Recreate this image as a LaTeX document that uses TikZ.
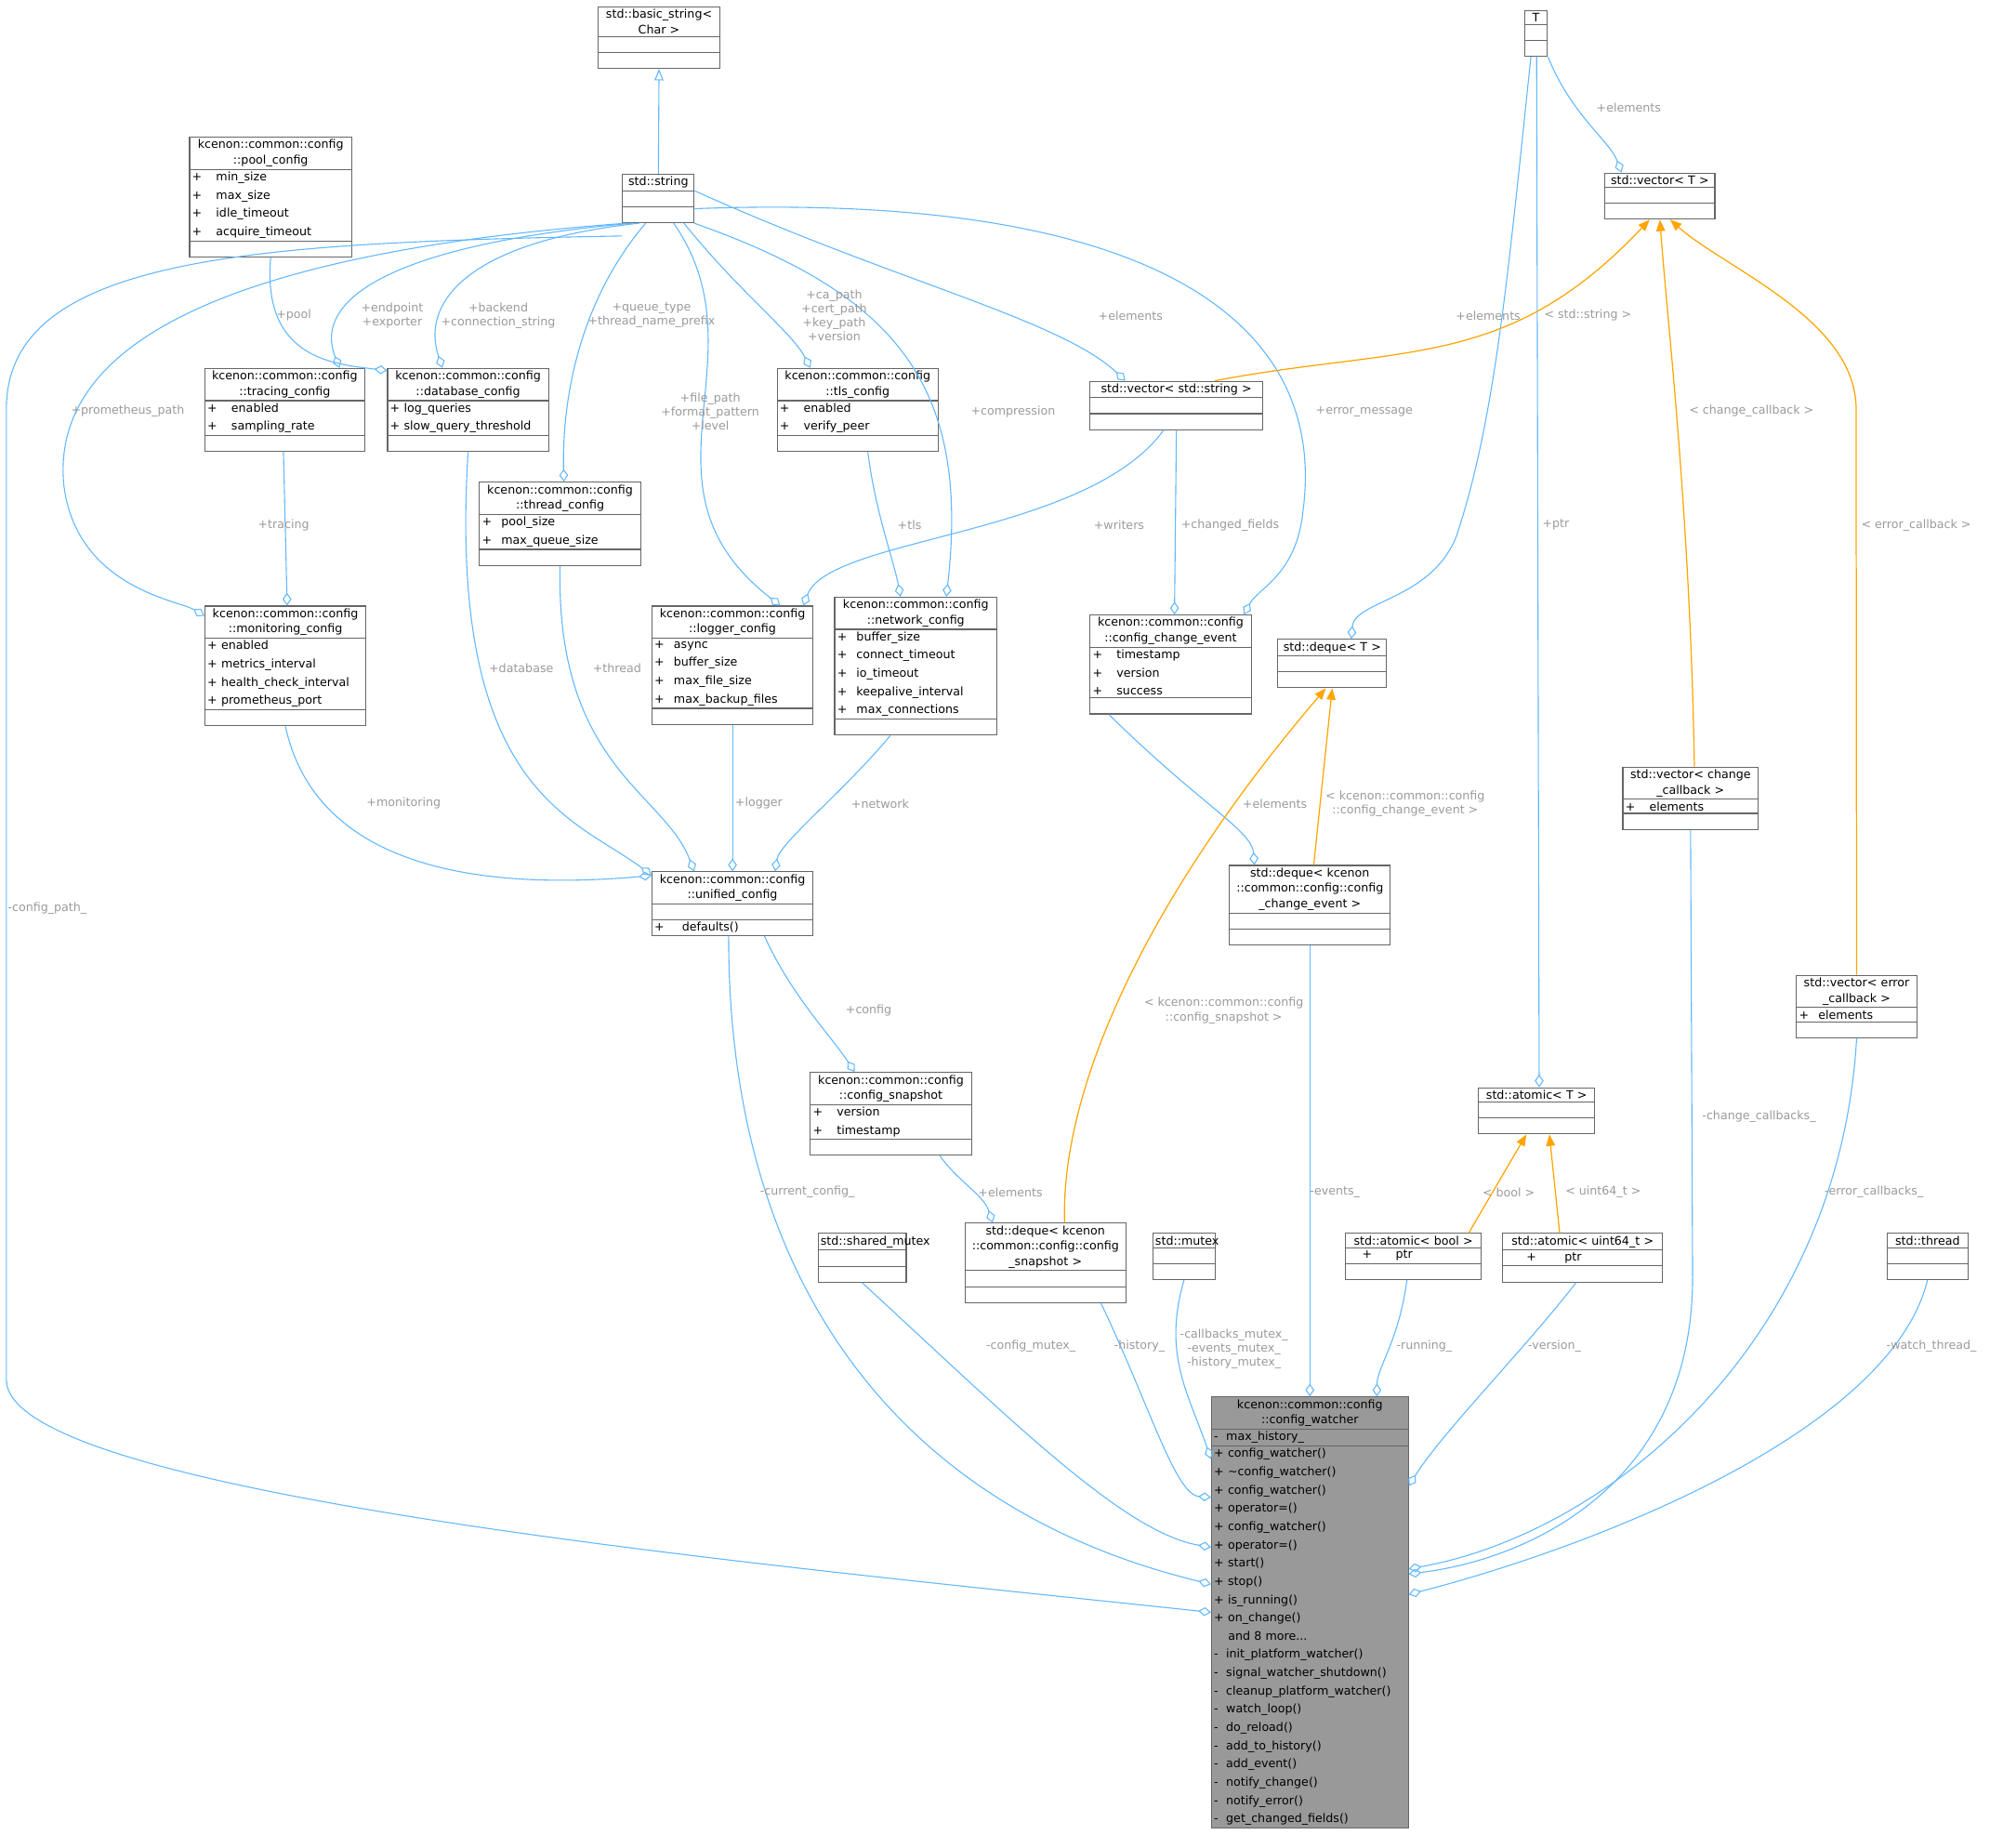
\documentclass[tikz,border=0pt]{standalone}
\usepackage{fontspec}
\setsansfont{DejaVu Sans}
\usetikzlibrary{shapes.multipart,arrows.meta}
\definecolor{edgeblue}{HTML}{63B8FF}
\definecolor{edgeorange}{HTML}{FFA500}
\definecolor{lblgray}{HTML}{9A9A9A}
\tikzset{
  cls/.style={draw=black!60, line width=0.8pt, fill=white, rectangle split, rectangle split parts=3,
    anchor=north west, align=left,
    inner xsep=2pt, inner ysep=1.6pt, font=\sffamily\fontsize{9.2}{14.3}\selectfont,
    text width=#1},
  agg/.style={draw=edgeblue, line width=0.8pt, -{Diamond[open,length=10pt,width=7pt]}},
  tmpl/.style={draw=edgeorange, line width=0.9pt, -{Triangle[length=9pt,width=7pt]}, fill=none},
  lbl/.style={text=lblgray, align=center, font=\sffamily\fontsize{9.2}{11}\selectfont, inner sep=1pt}
}
\newcommand\ttl[1]{\fontsize{9.2}{12}\selectfont\centering #1\par}
\newcommand\emp{\rule{0pt}{8.5pt}}
\begin{document}
\begin{tikzpicture}[x=1pt,y=-1pt]
\useasboundingbox (0,0) rectangle (1568,1446);
% classes
\node[cls=91pt] (basicstr) at (468,5) {\ttl{std::basic\_string<\\Char >}\nodepart{second}\emp\nodepart{third}\emp};
\node[cls=52pt] (str) at (487,136) {\ttl{std::string}\nodepart{second}\emp\nodepart{third}\emp};
\node[cls=14pt] (T) at (1193,8) {\ttl{T}\nodepart{second}\emp\nodepart{third}\emp};
\node[cls=82pt] (vecT) at (1256,135) {\ttl{std::vector< T >}\nodepart{second}\emp\nodepart{third}\emp};
\node[cls=123pt] (pool) at (148,107) {\ttl{kcenon::common::config\\::pool\_config}\nodepart{second}
  +\hspace{1.2em}min\_size\\+\hspace{1.2em}max\_size\\+\hspace{1.2em}idle\_timeout\\+\hspace{1.2em}acquire\_timeout\nodepart{third}\emp};
\node[cls=121pt] (tracing) at (160,288) {\ttl{kcenon::common::config\\::tracing\_config}\nodepart{second}
  +\hspace{1.2em}enabled\\+\hspace{1.2em}sampling\_rate\nodepart{third}\emp};
\node[cls=122pt] (database) at (303,288) {\ttl{kcenon::common::config\\::database\_config}\nodepart{second}
  +\ log\_queries\\+\ slow\_query\_threshold\nodepart{third}\emp};
\node[cls=122pt] (thread) at (375,377) {\ttl{kcenon::common::config\\::thread\_config}\nodepart{second}
  +\hspace{0.8em}pool\_size\\+\hspace{0.8em}max\_queue\_size\nodepart{third}\emp};
\node[cls=122pt] (tls) at (608,288) {\ttl{kcenon::common::config\\::tls\_config}\nodepart{second}
  +\hspace{1.2em}enabled\\+\hspace{1.2em}verify\_peer\nodepart{third}\emp};
\node[cls=131pt] (vecstr) at (853,298) {\ttl{std::vector< std::string >}\nodepart{second}\emp\nodepart{third}\emp};
\node[cls=122pt] (monitoring) at (160,474) {\ttl{kcenon::common::config\\::monitoring\_config}\nodepart{second}
  +\ enabled\\+\ metrics\_interval\\+\ health\_check\_interval\\+\ prometheus\_port\nodepart{third}\emp};
\node[cls=122pt] (logger) at (510,474) {\ttl{kcenon::common::config\\::logger\_config}\nodepart{second}
  +\hspace{0.8em}async\\+\hspace{0.8em}buffer\_size\\+\hspace{0.8em}max\_file\_size\\+\hspace{0.8em}max\_backup\_files\nodepart{third}\emp};
\node[cls=123pt] (network) at (653,467) {\ttl{kcenon::common::config\\::network\_config}\nodepart{second}
  +\hspace{0.8em}buffer\_size\\+\hspace{0.8em}connect\_timeout\\+\hspace{0.8em}io\_timeout\\+\hspace{0.8em}keepalive\_interval\\+\hspace{0.8em}max\_connections\nodepart{third}\emp};
\node[cls=122pt] (chevent) at (853,481) {\ttl{kcenon::common::config\\::config\_change\_event}\nodepart{second}
  +\hspace{1.2em}timestamp\\+\hspace{1.2em}version\\+\hspace{1.2em}success\nodepart{third}\emp};
\node[cls=81pt] (dequeT) at (1000,500) {\ttl{std::deque< T >}\nodepart{second}\emp\nodepart{third}\emp};
\node[cls=102pt] (vecchange) at (1270,600) {\ttl{std::vector< change\\\_callback >}\nodepart{second}
  +\hspace{1.2em}elements\nodepart{third}\emp};
\node[cls=122pt] (unified) at (510,682) {\ttl{kcenon::common::config\\::unified\_config}\nodepart{second}\emp\nodepart{third}
  +\hspace{1.5em}defaults()};
\node[cls=122pt] (dequeevent) at (962,677) {\ttl{std::deque< kcenon\\::common::config::config\\\_change\_event >}\nodepart{second}\emp\nodepart{third}\emp};
\node[cls=90pt] (vecerror) at (1406,763) {\ttl{std::vector< error\\\_callback >}\nodepart{second}
  +\hspace{0.8em}elements\nodepart{third}\emp};
\node[cls=87pt] (atomicT) at (1157,851) {\ttl{std::atomic< T >}\nodepart{second}\emp\nodepart{third}\emp};
\node[cls=122pt] (snapshot) at (634,839) {\ttl{kcenon::common::config\\::config\_snapshot}\nodepart{second}
  +\hspace{1.2em}version\\+\hspace{1.2em}timestamp\nodepart{third}\emp};
\node[cls=65pt] (shmutex) at (640,965) {\ttl{std::shared\_mutex}\nodepart{second}\emp\nodepart{third}\emp};
\node[cls=122pt] (dequesnap) at (755,957) {\ttl{std::deque< kcenon\\::common::config::config\\\_snapshot >}\nodepart{second}\emp\nodepart{third}\emp};
\node[cls=45pt] (mutex) at (902,965) {\ttl{std::mutex}\nodepart{second}\emp\nodepart{third}\emp};
\node[cls=102pt] (atomicbool) at (1053,965) {\ttl{std::atomic< bool >}\nodepart{second}
  \hspace{1.2em}+\hspace{2em}ptr\nodepart{third}\emp};
\node[cls=121pt] (atomicu64) at (1176,965) {\ttl{std::atomic< uint64\_t >}\nodepart{second}
  \hspace{1.8em}+\hspace{2.4em}ptr\nodepart{third}\emp};
\node[cls=59pt] (stdthread) at (1477,965) {\ttl{std::thread}\nodepart{second}\emp\nodepart{third}\emp};
\node[cls=150pt, fill=black!40] (watcher) at (948,1093) {\ttl{kcenon::common::config\\::config\_watcher}\nodepart{second}
  -\ \ max\_history\_\nodepart{third}
  +\ config\_watcher()\\+\ \textasciitilde config\_watcher()\\+\ config\_watcher()\\+\ operator=()\\+\ config\_watcher()\\+\ operator=()\\+\ start()\\+\ stop()\\+\ is\_running()\\+\ on\_change()\\\hspace{1.2em}and 8 more...\\-\ \ init\_platform\_watcher()\\-\ \ signal\_watcher\_shutdown()\\-\ \ cleanup\_platform\_watcher()\\-\ \ watch\_loop()\\-\ \ do\_reload()\\-\ \ add\_to\_history()\\-\ \ add\_event()\\-\ \ notify\_change()\\-\ \ notify\_error()\\-\ \ get\_changed\_fields()};
% inheritance
\draw[draw=edgeblue, line width=0.8pt, -{Triangle[open,length=9pt,width=7pt]}] (str.north) -- (basicstr.south);
% members of std::string
\draw[agg] ([yshift=-10pt]str.south west) .. controls (200,190) and (5,200) .. (5,320) -- (5,1080) .. controls (5,1170) and (600,1225) .. (watcher.west|-0,1262);
\draw[agg] ([xshift=-25pt]str.south) .. controls (150,200) and (40,280) .. (50,380) .. controls (60,460) and (140,470) .. ([yshift=-8pt]monitoring.north west);
\draw[agg] ([xshift=-20pt]str.south) .. controls (320,190) and (243,230) .. ([xshift=-20pt]tracing.north east);
\draw[agg] ([xshift=-15pt]str.south) .. controls (360,190) and (330,240) .. ([xshift=-20pt]database.north);
\draw[agg] ([xshift=-10pt]str.south) .. controls (450,240) and (440,320) .. ([xshift=3pt]thread.north);
\draw[agg] ([xshift=12pt]str.south) .. controls (600,280) and (490,380) .. ([xshift=-26pt]logger.north east);
\draw[agg] ([xshift=20pt]str.south) .. controls (580,230) and (620,260) .. ([xshift=-37pt]tls.north);
\draw[agg] ([xshift=28pt]str.south) .. controls (700,230) and (760,300) .. ([xshift=-40pt]network.north east);
\draw[agg] ([yshift=6pt]str.east) .. controls (700,220) and (830,250) .. ([xshift=-40pt]vecstr.north);
\draw[agg] ([yshift=-8pt]str.east) .. controls (900,150) and (1040,250) .. (1020,400) .. controls (1015,450) and (985,460) .. ([xshift=-6pt]chevent.north east);
\draw[agg] (pool.south) .. controls (205,280) and (260,285) .. ([yshift=-2pt]database.north west);
% T members
\draw[agg] (T.south east) .. controls (1230,90) and (1260,110) .. ([xshift=-30pt]vecT.north);
\draw[agg] ([xshift=-4pt]T.south) .. controls (1180,220) and (1170,330) .. (1140,420) .. controls (1120,470) and (1060,470) .. ([xshift=15pt]dequeT.north);
\draw[agg] (T.south) -- (atomicT.north|-T.south) -- ([xshift=2pt]atomicT.north);
% other members
\draw[agg] ([xshift=-1pt]tracing.south) -- ([xshift=-62pt]monitoring.north east);
\draw[agg] ([xshift=8pt]tls.south) .. controls (685,400) and (700,440) .. ([xshift=-12pt]network.north);
\draw[agg] ([xshift=-10pt]vecstr.south) .. controls (850,420) and (650,420) .. ([xshift=-8pt]logger.north east);
\draw[agg] ([xshift=0pt]vecstr.south) -- ([xshift=3pt]chevent.north);
\draw[agg] (monitoring.south) .. controls (250,690) and (400,695) .. ([yshift=22pt]unified.west);
\draw[agg] (database.south) .. controls (350,620) and (450,640) .. ([yshift=-3pt]unified.north west);
\draw[agg] (thread.south) .. controls (435,600) and (520,620) .. ([xshift=-30pt]unified.north);
\draw[agg] ([xshift=0pt]logger.south) -- ([xshift=0pt]unified.north);
\draw[agg] ([xshift=-20pt]network.south) .. controls (660,620) and (610,660) .. ([xshift=-30pt]unified.north east);
\draw[agg] ([xshift=15pt]chevent.south west) .. controls (940,630) and (980,650) .. ([xshift=20pt]dequeevent.north west);
\draw[agg] ([xshift=25pt]unified.south) .. controls (620,780) and (650,810) .. ([xshift=35pt]snapshot.north west);
\draw[agg] ([xshift=-25pt]snapshot.south east) .. controls (750,925) and (770,935) .. ([xshift=22pt]dequesnap.north west);
% template arrows
\draw[tmpl] ([xshift=3pt]dequeevent.north) -- ([xshift=0pt]dequeT.south);
\draw[tmpl] ([xshift=15pt]dequesnap.north) .. controls (830,850) and (900,700) .. ([xshift=-5pt]dequeT.south);
\draw[tmpl] ([xshift=30pt]vecstr.north) .. controls (1100,270) and (1180,290) .. ([xshift=-8pt]vecT.south);
\draw[tmpl] ([xshift=3pt]vecchange.north) .. controls (1323,400) and (1305,250) .. ([xshift=0pt]vecT.south);
\draw[tmpl] (vecerror.north) -- (1453,320) .. controls (1453,250) and (1350,210) .. ([xshift=8pt]vecT.south);
\draw[tmpl] ([xshift=-10pt]atomicbool.north east) -- ([xshift=-8pt]atomicT.south);
\draw[tmpl] ([xshift=-18pt]atomicu64.north) -- ([xshift=10pt]atomicT.south);
% members of config_watcher
\draw[agg] ([xshift=-3pt]unified.south) .. controls (570,1000) and (700,1180) .. (watcher.west|-0,1240);
\draw[agg] (shmutex.south) .. controls (790,1110) and (880,1200) .. (watcher.west|-0,1211);
\draw[agg] ([xshift=-20pt]dequesnap.south east) .. controls (900,1100) and (920,1170) .. (watcher.west|-0,1172);
\draw[agg] (mutex.south) .. controls (910,1060) and (930,1090) .. (watcher.west|-0,1142);
\draw[agg] ([xshift=0pt]dequeevent.south) -- (dequeevent.south|-watcher.north);
\draw[agg] ([xshift=-5pt]atomicbool.south) .. controls (1095,1050) and (1078,1070) .. ([xshift=-25pt]watcher.north east);
\draw[agg] ([xshift=-5pt]atomicu64.south) .. controls (1190,1060) and (1130,1120) .. (watcher.east|-0,1163);
\draw[agg] (vecchange.south) -- (1325,1000) .. controls (1325,1160) and (1200,1220) .. (watcher.east|-0,1232);
\draw[agg] (vecerror.south) .. controls (1440,1050) and (1260,1200) .. (watcher.east|-0,1228);
\draw[agg] (stdthread.south) .. controls (1480,1120) and (1250,1210) .. (watcher.east|-0,1248);
% labels
\node[lbl] (lpool) at (230,247) {+pool};
\node[lbl] (lendp) at (307,247) {+endpoint\\+exporter};
\node[lbl] (lback) at (390,247) {+backend\\+connection\_string};
\node[lbl] (lqueue) at (510,247) {+queue\_type\\+thread\_name\_prefix};
\node[lbl] (lca) at (653,247) {+ca\_path\\+cert\_path\\+key\_path\\+version};
\node[lbl] (lfile) at (556,322) {+file\_path\\+format\_pattern\\+level};
\node[lbl] (lcomp) at (793,322) {+compression};
\node[lbl] (lelem1) at (885,247) {+elements};
\node[lbl] (lerr) at (1068,322) {+error\_message};
\node[lbl] (lprom) at (100,322) {+prometheus\_path};
\node[lbl] (ltracing) at (222,411) {+tracing};
\node[lbl] (ltls) at (712,411) {+tls};
\node[lbl] (lwriters) at (876,411) {+writers};
\node[lbl] (lchanged) at (963,411) {+changed\_fields};
\node[lbl] (lelemT) at (1275,84) {+elements};
\node[lbl] (lelemD) at (1165,247) {+elements};
\node[lbl] (lstdstr) at (1243,247) {< std::string >};
\node[lbl] (lchcb) at (1371,322) {< change\_callback >};
\node[lbl] (lercb) at (1500,411) {< error\_callback >};
\node[lbl] (lptr) at (1218,411) {+ptr};
\node[lbl] (lmon) at (316,629) {+monitoring};
\node[lbl] (ldb) at (408,523) {+database};
\node[lbl] (lthr) at (483,523) {+thread};
\node[lbl] (llog) at (594,629) {+logger};
\node[lbl] (lnet) at (689,629) {+network};
\node[lbl] (lelemE) at (998,629) {+elements};
\node[lbl] (ltev) at (1100,629) {< kcenon::common::config\\::config\_change\_event >};
\node[lbl] (ltsn) at (958,791) {< kcenon::common::config\\::config\_snapshot >};
\node[lbl] (lconfig) at (680,791) {+config};
\node[lbl] (lelemS) at (791,933) {+elements};
\node[lbl] (lcur) at (632,933) {-current\_config\_};
\node[lbl] (lpath) at (37,711) {-config\_path\_};
\node[lbl] (levents) at (1045,933) {-events\_};
\node[lbl] (lchcbs) at (1377,874) {-change\_callbacks\_};
\node[lbl] (lercbs) at (1467,933) {-error\_callbacks\_};
\node[lbl] (lbool) at (1181,933) {< bool >};
\node[lbl] (lu64) at (1255,933) {< uint64\_t >};
\node[lbl] (lcfgmx) at (807,1054) {-config\_mutex\_};
\node[lbl] (lhist) at (892,1054) {-history\_};
\node[lbl] (lmx) at (966,1056) {-callbacks\_mutex\_\\-events\_mutex\_\\-history\_mutex\_};
\node[lbl] (lrun) at (1115,1054) {-running\_};
\node[lbl] (lver) at (1217,1054) {-version\_};
\node[lbl] (lwt) at (1512,1054) {-watch\_thread\_};
\end{tikzpicture}
\end{document}
